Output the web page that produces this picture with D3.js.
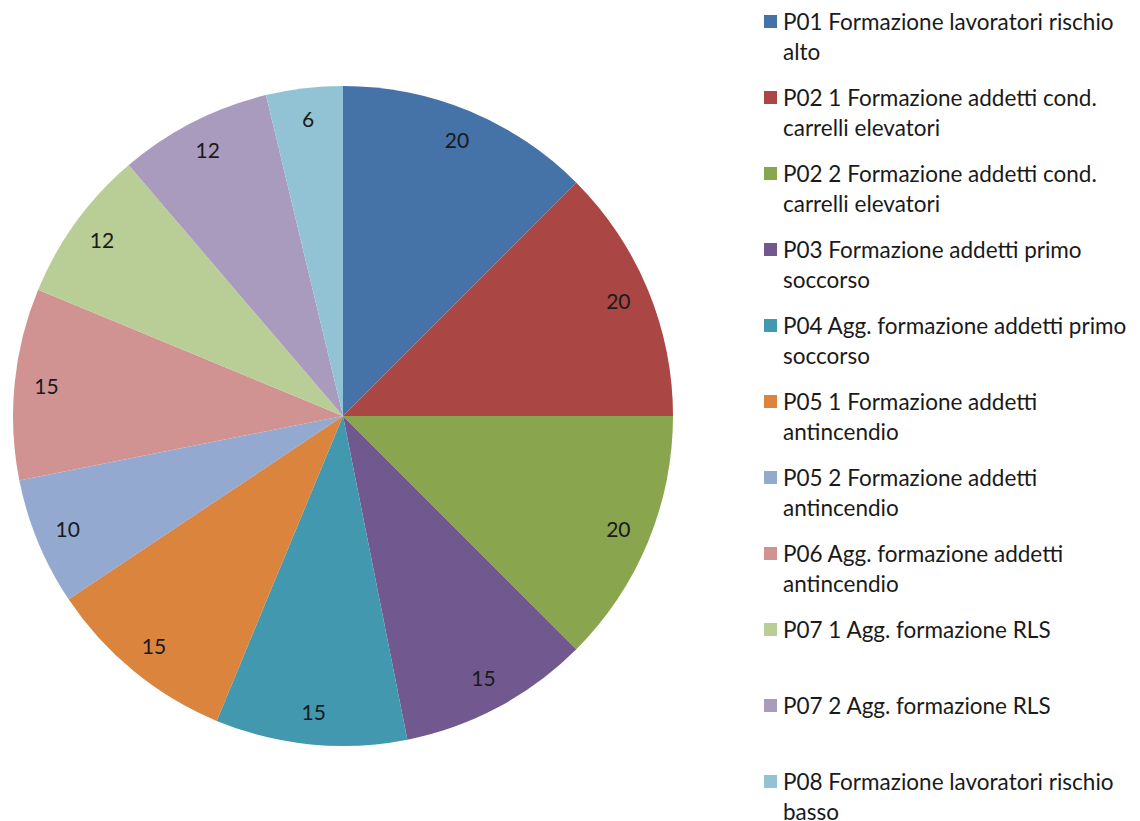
<!DOCTYPE html>
<html>
<head>
<meta charset="utf-8">
<script src="https://cdn.jsdelivr.net/npm/d3@7"></script>
<style>
  body { margin: 0; background: #fff; }
  text { font-family: Lato, "Open Sans", sans-serif; fill: #1a1a1a; }
</style>
</head>
<body>
<script>
// chart data
var categories = [
  "P01 Formazione lavoratori rischio alto",
  "P02 1 Formazione addetti cond. carrelli elevatori",
  "P02 2 Formazione addetti cond. carrelli elevatori",
  "P03 Formazione addetti primo soccorso",
  "P04 Agg. formazione addetti primo soccorso",
  "P05 1 Formazione addetti antincendio",
  "P05 2 Formazione addetti antincendio",
  "P06 Agg. formazione addetti antincendio",
  "P07 1 Agg. formazione RLS",
  "P07 2 Agg. formazione RLS",
  "P08 Formazione lavoratori rischio basso"
];
var values = [20, 20, 20, 15, 15, 15, 10, 15, 12, 12, 6];
// legend text split into lines as in the picture
var legendLines = [
  ["P01 Formazione lavoratori rischio", "alto"],
  ["P02 1 Formazione addetti cond.", "carrelli elevatori"],
  ["P02 2 Formazione addetti cond.", "carrelli elevatori"],
  ["P03 Formazione addetti primo", "soccorso"],
  ["P04 Agg. formazione addetti primo", "soccorso"],
  ["P05 1 Formazione addetti", "antincendio"],
  ["P05 2 Formazione addetti", "antincendio"],
  ["P06 Agg. formazione addetti", "antincendio"],
  ["P07 1 Agg. formazione RLS"],
  ["P07 2 Agg. formazione RLS"],
  ["P08 Formazione lavoratori rischio", "basso"]
];
var colors = ["#4572A7", "#AA4643", "#89A54E", "#71588F", "#4198AF", "#DB843D",
              "#93A9CF", "#D19392", "#B9CD96", "#A99BBD", "#92C3D4"];

var width = 1140;
var height = 821;
var cx = 343, cy = 416, radius = 330;

var svg = d3.select("body")
  .append("svg")
  .attr("width", width)
  .attr("height", height);

var color = d3.scaleOrdinal().domain(categories).range(colors);

var data = categories.map(function(c, i) { return {name: c, value: values[i]}; });

var pie = d3.pie().sort(null).value(function(d) { return d.value; });
var arc = d3.arc().innerRadius(0).outerRadius(radius);
var labelArc = d3.arc().innerRadius(298).outerRadius(298);

var g = svg.append("g").attr("transform", "translate(" + cx + "," + cy + ")");

var slices = g.selectAll(".slice")
  .data(pie(data))
  .enter().append("g")
  .attr("class", "slice");

slices.append("path")
  .attr("d", arc)
  .attr("fill", function(d) { return color(d.data.name); });

slices.append("text")
  .attr("transform", function(d) { return "translate(" + labelArc.centroid(d) + ")"; })
  .attr("text-anchor", "middle")
  .attr("dy", "0.35em")
  .style("font-size", "21px")
  .text(function(d) { return d.data.value; });

// legend
var legend = svg.append("g").attr("transform", "translate(764,0)");
var rowStep = 76;

var items = legend.selectAll(".item")
  .data(categories)
  .enter().append("g")
  .attr("class", "item")
  .attr("transform", function(d, i) { return "translate(0," + (22 + i * rowStep) + ")"; });

items.append("rect")
  .attr("x", 0)
  .attr("y", -7)
  .attr("width", 13)
  .attr("height", 13)
  .attr("fill", function(d) { return color(d); });

items.append("text")
  .attr("x", 19)
  .style("font-size", "22.5px")
  .each(function(d, i) {
    var t = d3.select(this);
    legendLines[i].forEach(function(line, j) {
      t.append("tspan")
        .attr("x", 19)
        .attr("y", j * 30)
        .attr("dy", "0.35em")
        .text(line);
    });
  });
</script>
</body>
</html>
